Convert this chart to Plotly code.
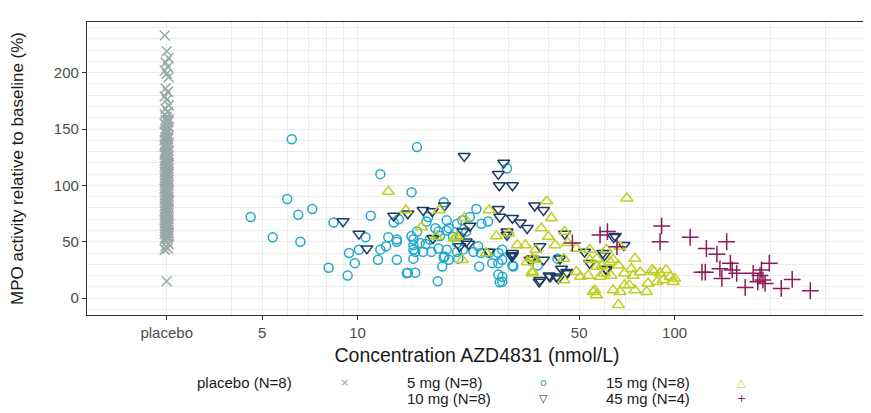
import plotly.graph_objects as go

# ---------------- data ----------------
placebo_x_pos = 2.5
placebo_y = [233, 219, 213, 209, 205, 202, 199, 196, 186, 183, 179, 176, 171, 168, 165, 163,
             161, 159, 158, 156, 155, 153, 152, 150, 149, 147, 146, 144, 143, 141, 140, 139,
             138, 137, 135, 134, 133, 131, 130, 129, 128, 127, 126, 124, 123, 122, 121, 120,
             119, 118, 117, 116, 115, 114, 113, 112, 111, 110, 109, 108, 107, 106, 105, 104,
             103, 102, 101, 100, 99, 98, 97, 96, 95, 94, 93, 92, 91, 90, 89, 88,
             87, 86, 85, 84, 83, 82, 81, 80, 79, 78, 77, 76, 75, 74, 73, 72,
             71, 70, 69, 68, 67, 66, 65, 64, 63, 62, 61, 60, 59, 58, 57, 56,
             55, 54, 53, 52, 50, 48, 46, 44, 43, 15,
             157, 148, 142, 136, 125, 118, 112, 104, 97, 91, 86, 79, 74, 69, 63, 58]
placebo_jitter = [2.465, 2.5, 2.535, 2.48, 2.52]

mg5_x = [6.2, 4.6, 6.0, 6.5, 7.2, 5.4, 6.6, 8.4, 11.0, 10.6, 9.4, 10.1, 9.8, 8.1, 9.3, 11.8,
         11.8, 11.6, 12.5, 12.3, 15.4, 14.8, 29.6, 13.3, 13.3, 14.4, 15.2, 17.9, 18.7, 13.0,
         13.5, 14.8, 15.4, 16.7, 16.5, 17.6, 19.1, 20.6, 19.1, 18.2, 15.0, 15.7, 16.4, 15.2,
         16.1, 17.1, 18.0, 19.1, 18.8, 19.4, 20.6, 22.0, 22.6, 23.7, 23.2, 24.6, 25.8, 24.0,
         26.0, 27.8, 27.8, 24.2, 27.8, 28.1, 26.6, 18.5, 31.0, 28.6, 28.6, 30.8, 37.0, 42.7,
         21.4, 13.3, 15.0, 16.9, 18.0, 19.4, 20.0, 15.0, 20.6, 21.0, 21.5, 18.7, 20.8, 15.0,
         24.5, 14.3, 28.6, 28.6]
mg5_y = [141, 72, 88, 74, 79, 54, 50, 67, 73, 54, 40, 43, 31, 27, 20, 110,
         43, 34, 54, 46, 134, 94, 115, 50, 34, 22.5, 22.5, 15, 85, 67,
         70, 55, 59, 72, 68, 62, 69, 66, 60, 55, 47, 49, 48, 41,
         41, 41, 44, 43, 37, 34, 41, 59, 72, 79, 41, 66, 68, 46,
         40, 40, 31, 28, 21, 14, 31, 28, 28, 43, 34, 29, 29, 35,
         69, 52, 52, 52, 59, 62, 54.5, 43, 49, 54.5, 43, 36, 35, 35,
         40, 22, 19, 14.5]

mg10_x = [9.0, 10.1, 10.7, 21.7, 28.9, 27.8, 28.0, 30.8, 13.0, 16.1, 17.2, 18.8, 14.4, 27.8,
          28.1, 30.8, 32.6, 34.3, 36.2, 38.6, 17.3, 22.6, 22.0, 22.4, 21.0, 26.0, 30.7, 35.0,
          37.6, 38.6, 40.2, 37.4, 42.4, 45.7, 45.0, 52.0, 29.6, 30.8, 43.5, 44.0, 37.6, 40.5,
          43.0, 45.8, 54.0, 59.4, 60.7, 64.2, 69.2, 60.1, 61.0, 65.0, 21.5, 35.6, 30.8, 29.6]
mg10_y = [68, 57, 44, 126, 120, 110, 100, 100, 73, 78, 77, 82, 75, 79,
          72, 71, 67, 62, 82, 78, 53, 64, 50, 48, 46, 41, 37, 34,
          46, 34, 20, 14.5, 19, 23, 57, 41, 56, 38, 35, 26, 16, 19,
          17.5, 22, 31, 40, 26, 54, 47, 38, 25, 55, 59, 35, 40, 59]

mg15_x = [12.5, 14.2, 18.1, 15.9, 17.7, 21.7, 20.6, 21.4, 25.5, 26.0, 27.4, 30.0, 31.9, 39.5,
          40.9, 40.0, 42.0, 36.5, 35.6, 44.7, 45.0, 55.4, 56.7, 70.7, 38.0, 34.3, 35.6, 49.0,
          50.5, 54.0, 56.8, 61.0, 64.0, 66.5, 64.0, 67.3, 69.5, 66.5, 69.5, 73.0, 75.0, 74.0,
          81.6, 82.5, 86.0, 94.0, 92.0, 97.0, 100.0, 88.0, 99.0, 46.0, 49.0, 54.0, 56.8, 58.2,
          62.6, 67.3, 72.0, 75.0, 56.0, 53.4, 85.0, 33.8, 36.5, 44.7, 60.0, 78.0, 90.0, 59.0,
          63.0, 20.2, 35.6]
mg15_y = [94.5, 78, 78, 63, 54.5, 71, 54.5, 34, 40, 78, 55, 57.5, 47, 86,
          71, 54.5, 47, 34, 22, 16, 59, 5.6, 2.7, 88.6, 62, 32, 23.5, 23.5,
          19, 34, 28, 43, 34, -6, 7, 5.6, 11.5, 29, 22, 26, 35, 20,
          5.6, 13, 23.5, 25, 16, 19, 17.5, 14.5, 14.5, 49, 44, 43, 35, 19,
          32, 45.6, 11.5, 7, 7, 20, 25, 47, 43, 35, 22, 23, 22, 29,
          20, 53, 35]

mg45_x = [91, 90, 112, 126, 136, 146, 122, 125, 139, 141, 150, 152, 157, 167, 177, 186,
          183, 190, 199, 188, 217, 235, 268, 193, 47.6, 58.2, 61.4, 65.8]
mg45_y = [64, 50, 54, 44, 39, 50, 23, 23, 26, 17.5, 31, 25, 22, 9.5, 22, 20,
          14.5, 16, 31, 25, 8.6, 16.6, 6.5, 13, 49, 56, 59, 45.6]

x_tickvals = [2.5, 5, 10, 50, 100]
x_ticktext = ["placebo", "5", "10", "50", "100"]
x_minor = [4, 6, 7, 8, 9, 20, 30, 40, 60, 70, 80, 90, 200, 300, 400]
y_tickvals = [0, 50, 100, 150, 200]

placebo_x = [placebo_jitter[i % len(placebo_jitter)] for i in range(len(placebo_y))]

groups = [
    ("placebo (N=8)", placebo_x, placebo_y, "x-thin-open", "#97AAA7", 10, "×"),
    ("5 mg (N=8)", mg5_x, mg5_y, "circle-open", "#1FA8CA", 9, "o"),
    ("10 mg (N=8)", mg10_x, mg10_y, "triangle-down-open", "#1E3A5F", 10.5, "▽"),
    ("15 mg (N=8)", mg15_x, mg15_y, "triangle-up-open", "#C0D020", 10.5, "△"),
    ("45 mg (N=4)", mg45_x, mg45_y, "cross-thin-open", "#8B1B5A", 12, "+"),
]

FONT = "Liberation Sans, Arial, Helvetica, sans-serif"
GRID = "#EBEBEB"

fig = go.Figure()
for name, xs, ys, sym, col, sz, glyph in groups:
    fig.add_trace(go.Scatter(
        x=xs, y=ys, mode="markers", name=name, showlegend=False,
        marker=dict(symbol=sym, size=sz, color=col, line=dict(color=col, width=1.5)),
    ))

# page offset (default body margin) and figure size
OFF = 8
FW, FH = 871 - OFF, 413 - OFF
# plot area in page pixels: x 87..867, y 22..315
L, R, T, B = 87 - OFF, FW - (867 - OFF), 22 - OFF, FH - (315 - OFF)
W, H = FW - L - R, FH - T - B
def px(xp):
    return (xp - OFF - L) / W
def py(yp):
    return (FH - B - (yp - OFF)) / H

legend_pos = [(195, 344, 382), (405, 543, 382), (405, 543, 398), (604, 741, 382), (604, 741, 398)]
annotations = []
for (tx, kx, ky), g in zip(legend_pos, groups):
    name, _, _, _, col, _, glyph = g
    annotations.append(dict(x=px(tx), y=py(ky), xref="paper", yref="paper", text=name,
                            showarrow=False, xanchor="left", yanchor="middle",
                            font=dict(family=FONT, size=15, color="#1a1a1a")))
    annotations.append(dict(x=px(kx), y=py(ky), xref="paper", yref="paper", text=glyph,
                            showarrow=False, xanchor="center", yanchor="middle",
                            font=dict(family="DejaVu Sans, sans-serif", size=11, color=col)))

fig.update_layout(
    width=FW, height=FH,
    margin=dict(l=L, r=R, t=T, b=B, autoexpand=False),
    paper_bgcolor="white", plot_bgcolor="white",
    font=dict(family=FONT, color="#1a1a1a"),
    annotations=annotations,
    showlegend=False,
)
fig.update_xaxes(
    type="log", range=[0.1465, 2.607], automargin=False,
    tickvals=x_tickvals, ticktext=x_ticktext,
    tickfont=dict(family=FONT, size=15, color="#4D4D4D"),
    showgrid=True, gridcolor=GRID, gridwidth=1,
    minor=dict(tickvals=x_minor, showgrid=True, gridcolor=GRID, gridwidth=1, ticks=""),
    showline=True, linecolor="#333333", linewidth=1.3, mirror=True,
    ticks="outside", ticklen=4, tickcolor="#333333",
    zeroline=False,
    title=dict(text="Concentration AZD4831 (nmol/L)", font=dict(family=FONT, size=19.5, color="#1a1a1a"), standoff=8),
)
fig.update_yaxes(
    range=[-15, 245], automargin=False,
    tickvals=y_tickvals,
    tickfont=dict(family=FONT, size=15, color="#4D4D4D"),
    showgrid=True, gridcolor=GRID, gridwidth=1,
    minor=dict(dtick=10, showgrid=True, gridcolor=GRID, gridwidth=1, ticks=""),
    showline=True, linecolor="#333333", linewidth=1.3, mirror=True,
    ticks="outside", ticklen=4, tickcolor="#333333",
    zeroline=False,
    title=dict(text="MPO activity relative to baseline (%)", font=dict(family=FONT, size=17, color="#1a1a1a"), standoff=25),
)

fig.write_html("out.html")
